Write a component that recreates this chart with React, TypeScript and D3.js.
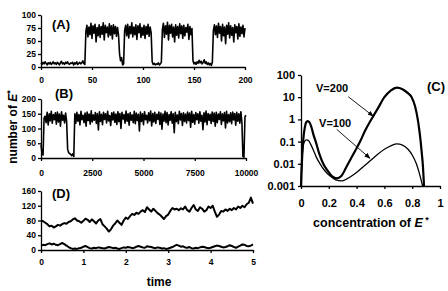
import React, { useEffect, useRef } from "react";
import * as d3 from "d3";

// (A) number of E* vs time, one sample per time unit (0..200)
const aStep = 1;
const aValues = [
  8, 5, 9, 6, 10, 7, 4, 8, 6, 9, 5, 7, 10, 6, 8, 5, 9, 7, 4, 8, 11, 6, 8, 5, 9, 7, 10, 6, 5, 8, 7, 9, 4, 8, 6, 10, 5, 7, 9, 6, 8, 12, 7, 5,
  68, 80, 58, 77, 62, 84, 55, 79, 65, 82, 48, 76, 60, 81, 57, 78, 63, 85, 52, 80, 66, 77, 58, 83, 61, 79, 54, 81, 64, 78, 59, 76, 62,
  25, 12, 18, 4, 6, 70,
  80, 60, 82, 56, 78, 64, 85, 58, 77, 62, 81, 53, 79, 66, 83, 57, 76, 61, 80, 55, 78, 63, 82, 59, 77, 65,
  10, 5, 7, 4, 6, 5, 8, 4, 6, 9,
  72, 84, 57, 79, 63, 86, 52, 80, 65, 82, 58, 77, 48, 81, 61, 78, 56, 83, 64, 79, 55, 80, 60, 76, 67, 82, 53, 78, 62, 74,
  12, 6, 9, 5, 10, 7, 13, 8, 11, 6, 9, 14, 7, 10, 5, 8, 4, 7, 3, 9,
  70, 81, 62, 79, 57, 84, 65, 78, 50, 82, 60, 77, 45, 80, 63, 85, 56, 79, 61, 76, 48, 81, 66, 78, 54, 83, 59, 77, 64, 80, 58, 75,
];

// (B) same, one sample every 50 time units (0..10000)
const bStep = 50;
const bValues = [
  45, 15, 10, 135,
  142, 120, 155, 112, 150, 126, 158, 118, 147, 130, 153, 115, 156, 122, 149, 108, 157, 128, 145, 119, 152, 124,
  30, 18, 15, 12, 8, 14, 5,
  150, 118, 155, 125, 147, 112, 158, 130, 145, 120,
  152, 108, 156, 127, 149, 115, 160, 122, 146, 128,
  154, 117, 151, 95, 157, 124, 148, 113, 155, 131,
  150, 119, 158, 126, 144, 110, 153, 129, 156, 121,
  149, 114, 157, 123, 151, 100, 155, 132, 147, 118,
  159, 125, 150, 111, 154, 128, 146, 120, 158, 116,
  152, 127, 148, 92, 156, 124, 150, 113, 157, 130,
  145, 119, 153, 126, 159, 109, 151, 122, 155, 117,
  148, 131, 156, 114, 152, 98, 149, 125, 158, 120,
  154, 112, 147, 128, 157, 118, 150, 86, 155, 123,
  146, 116, 158, 129, 151, 110, 153, 124, 149, 119,
  156, 127, 152, 104, 158, 121, 147, 115, 154, 130,
  150, 118, 157, 125, 145, 96, 153, 122, 159, 113,
  151, 128, 148, 117, 156, 124, 152, 108, 155, 120,
  149, 131, 157, 114, 150, 126, 154, 102, 158, 119,
  147, 123, 153, 116, 156, 129, 151, 111, 155, 125,
  150, 118, 157, 121,
  5, 3,
  140, 145,
];

// (D) two traces, one sample every 0.05 time units (0..5)
const dStep = 0.05;
const dUpper = [
  80, 78, 74, 70, 64, 66, 61, 64, 68, 66, 70, 73, 71, 76, 78, 83, 86, 80, 78, 74,
  79, 85, 82, 76, 83, 78, 72, 80, 84, 70, 64, 58, 50, 56, 66, 72, 80, 74, 68, 80,
  88, 84, 92, 98, 95, 101, 98, 104, 108, 103, 116, 110, 104, 112, 106, 100, 96, 90, 84, 92,
  96, 106, 114, 110, 112, 108, 113, 110, 118, 108, 104, 114, 122, 110, 106, 116, 112, 104, 108, 118,
  114, 120, 104, 90, 96, 106, 104, 110, 106, 112, 108, 114, 110, 118, 114, 120, 116, 124, 128, 142, 126,
];
const dLower = [
  12, 14, 13, 16, 18, 15, 17, 14, 13, 16,
  19, 16, 12, 8, 5, 3, 4, 3, 5, 6,
  9, 11, 8, 5, 4, 6, 5, 7, 6, 5,
  4, 6, 8, 7, 5, 6, 4, 3, 5, 7,
  6, 8, 7, 5, 6, 9, 11, 9, 7, 6,
  10, 9, 8, 6, 5, 7, 6, 4, 5, 3,
  4, 6, 8, 11, 14, 12, 9, 10, 7, 6,
  8, 5, 4, 6, 5, 7, 9, 8, 6, 5,
  6, 8, 10, 12, 11, 9, 7, 8, 10, 13,
  11, 8, 6, 9, 12, 15, 14, 11, 10, 12,
  15,
];

// (C) distribution vs concentration of E*
const cConc200 = [0, 0.006, 0.015, 0.028, 0.038, 0.048, 0.06, 0.075, 0.09, 0.106, 0.13, 0.16, 0.19, 0.225, 0.257, 0.29, 0.33, 0.38, 0.425, 0.46, 0.51, 0.555, 0.6, 0.645, 0.69, 0.73, 0.765, 0.796, 0.82, 0.84, 0.852, 0.861, 0.869, 0.876, 0.885];
const cProb200 = [0.001, 0.01, 0.1, 0.45, 0.75, 0.84, 0.75, 0.45, 0.2, 0.1, 0.03, 0.01, 0.005, 0.0027, 0.0022, 0.0028, 0.008, 0.03, 0.1, 0.3, 1.1, 3.3, 10, 20, 27, 23, 16, 10, 4, 1, 0.3, 0.1, 0.03, 0.01, 0.001];
const cConc100 = [0, 0.005, 0.014, 0.025, 0.041, 0.055, 0.07, 0.09, 0.11, 0.137, 0.17, 0.21, 0.25, 0.293, 0.33, 0.38, 0.42, 0.46, 0.5, 0.55, 0.6, 0.65, 0.69, 0.73, 0.77, 0.8, 0.83, 0.85, 0.875];
const cProb100 = [0.001, 0.01, 0.05, 0.1, 0.12, 0.11, 0.075, 0.04, 0.02, 0.01, 0.005, 0.0028, 0.0019, 0.0017, 0.0021, 0.0033, 0.0052, 0.0085, 0.014, 0.026, 0.045, 0.066, 0.079, 0.07, 0.045, 0.025, 0.01, 0.004, 0.001];

const aTicks = [0, 50, 100, 150, 200];
const aYTicks = [0, 25, 50, 75, 100];
const bTicks = [0, 2500, 5000, 7500, 10000];
const bYTicks = [0, 50, 100, 150, 200];
const dTicks = [0, 1, 2, 3, 4, 5];
const dYTicks = [0, 40, 80, 120, 160];
const cTicks = [0, 0.2, 0.4, 0.6, 0.8, 1];
const cYTicks = [0.001, 0.01, 0.1, 1, 10, 100];

const FONT = "'Liberation Sans', Arial, Helvetica, sans-serif";

const App = () => {
  const svgRef = useRef<SVGSVGElement | null>(null);

  useEffect(() => {
    const svg = d3.select(svgRef.current);
    svg.selectAll("*").remove();
    svg.style("font-family", FONT);

    const styleAxis = (g: any, size: number) => {
      g.selectAll("path,line").attr("stroke", "#000").attr("stroke-width", 1.3);
      g.selectAll("text")
        .attr("fill", "#000")
        .style("font-size", `${size}px`)
        .style("font-weight", "bold")
        .style("font-family", FONT);
    };

    const drawPanel = (
      xDomain: number[],
      xRange: number[],
      yDomain: number[],
      yRange: number[],
      xTicks: number[],
      yTicks: number[],
      xPad: number
    ) => {
      const x = d3.scaleLinear().domain(xDomain).range(xRange);
      const y = d3.scaleLinear().domain(yDomain).range(yRange);
      const gx = svg
        .append("g")
        .attr("transform", `translate(0,${yRange[0]})`)
        .call(d3.axisBottom(x).tickValues(xTicks).tickSize(3).tickSizeOuter(0).tickPadding(xPad).tickFormat(d3.format("d")));
      styleAxis(gx, 8.5);
      const gy = svg
        .append("g")
        .attr("transform", `translate(${xRange[0]},0)`)
        .call(d3.axisLeft(y).tickValues(yTicks).tickSize(3).tickSizeOuter(0).tickPadding(2).tickFormat(d3.format("d")));
      styleAxis(gy, 8.5);
      return { x, y };
    };

    const trace = (x: any, y: any, vals: number[], step: number, width: number) => {
      const line = d3
        .line<number>()
        .x((_, i) => x(i * step))
        .y((d) => y(d));
      svg
        .append("path")
        .datum(vals)
        .attr("d", line)
        .attr("fill", "none")
        .attr("stroke", "#000")
        .attr("stroke-width", width)
        .attr("stroke-linejoin", "round");
    };

    const panelLabel = (t: string, px: number, py: number) => {
      svg
        .append("text")
        .attr("x", px)
        .attr("y", py)
        .style("font-size", "13px")
        .style("font-weight", "bold")
        .text(t);
    };

    // Panel A
    const a = drawPanel([0, 200], [41, 245], [0, 100], [67, 15], aTicks, aYTicks, 7);
    trace(a.x, a.y, aValues, aStep, 1.6);
    panelLabel("(A)", 52, 29);

    // Panel B
    const b = drawPanel([0, 10000], [41, 246], [0, 200], [158, 99], bTicks, bYTicks, 9);
    trace(b.x, b.y, bValues, bStep, 1.6);
    panelLabel("(B)", 55, 98);

    // Panel D
    const dd = drawPanel([0, 5], [41, 253], [0, 160], [250, 191], dTicks, dYTicks, 6);
    trace(dd.x, dd.y, dUpper, dStep, 2);
    trace(dd.x, dd.y, dLower, dStep, 2);
    panelLabel("(D)", 52, 198);

    // Panel C
    const cx = d3.scaleLinear().domain([0, 1]).range([301, 440]);
    const cy = d3.scaleLog().domain([0.001, 100]).range([186, 75]);
    const gcx = svg
      .append("g")
      .attr("transform", "translate(0,186)")
      .call(d3.axisBottom(cx).tickValues(cTicks).tickSize(3).tickSizeOuter(0).tickPadding(10).tickFormat((d: any) => (d === 0 || d === 1 ? String(d) : d3.format(".1f")(d))));
    styleAxis(gcx, 11);
    const gcy = svg
      .append("g")
      .attr("transform", "translate(301,0)")
      .call(d3.axisLeft(cy).tickValues(cYTicks).tickSize(3).tickSizeOuter(0).tickPadding(3).tickFormat((d: any) => String(d)));
    styleAxis(gcy, 11);

    const cLine = d3
      .line<number>()
      .x((d) => cx(d))
      .curve(d3.curveMonotoneX);
    svg
      .append("path")
      .attr("d", cLine.y((_, i) => cy(cProb200[i]))(cConc200))
      .attr("fill", "none")
      .attr("stroke", "#000")
      .attr("stroke-width", 2.2);
    svg
      .append("path")
      .attr("d", cLine.y((_, i) => cy(cProb100[i]))(cConc100))
      .attr("fill", "none")
      .attr("stroke", "#000")
      .attr("stroke-width", 1.3);

    svg
      .append("defs")
      .append("marker")
      .attr("id", "arrow")
      .attr("viewBox", "0 0 10 10")
      .attr("refX", 9)
      .attr("refY", 5)
      .attr("markerWidth", 6)
      .attr("markerHeight", 6)
      .attr("markerUnits", "userSpaceOnUse")
      .attr("orient", "auto")
      .append("path")
      .attr("d", "M0,1L10,5L0,9z")
      .attr("fill", "#000");

    const arrow = (x1: number, v1: number, x2: number, v2: number) => {
      svg
        .append("line")
        .attr("x1", cx(x1))
        .attr("y1", cy(v1))
        .attr("x2", cx(x2))
        .attr("y2", cy(v2))
        .attr("stroke", "#000")
        .attr("stroke-width", 0.9)
        .attr("marker-end", "url(#arrow)");
    };
    arrow(0.34, 10.5, 0.52, 1.4);
    arrow(0.257, 0.355, 0.496, 0.0177);

    const note = (t: string, x0: number, v0: number) => {
      svg
        .append("text")
        .attr("x", cx(x0))
        .attr("y", cy(v0))
        .style("font-size", "11px")
        .style("font-weight", "bold")
        .text(t);
    };
    note("V=200", 0.108, 17);
    note("V=100", 0.13, 0.45);
    panelLabel("(C)", 427, 91);

    // axis titles
    const xt = svg
      .append("text")
      .attr("x", 371)
      .attr("y", 227)
      .attr("text-anchor", "middle")
      .style("font-size", "12.5px")
      .style("font-weight", "bold");
    xt.append("tspan").text("concentration of ");
    xt.append("tspan").style("font-style", "italic").text("E");
    xt.append("tspan").attr("dy", -4).style("font-size", "9px").text(" *");

    svg
      .append("text")
      .attr("x", 159)
      .attr("y", 286)
      .attr("text-anchor", "middle")
      .style("font-size", "12px")
      .style("font-weight", "bold")
      .text("time");

    const yt = svg
      .append("text")
      .attr("transform", "translate(17,127) rotate(-90)")
      .attr("text-anchor", "middle")
      .style("font-size", "12px")
      .style("font-weight", "bold");
    yt.append("tspan").text("number of ");
    yt.append("tspan").style("font-style", "italic").text("E");
    yt.append("tspan").attr("dy", -4).style("font-size", "9px").text("*");
  }, []);

  return (
    <svg
      ref={svgRef}
      width={448}
      height={291}
      style={{ position: "absolute", left: 0, top: 0, background: "#fff" }}
    ></svg>
  );
};

export default App;
